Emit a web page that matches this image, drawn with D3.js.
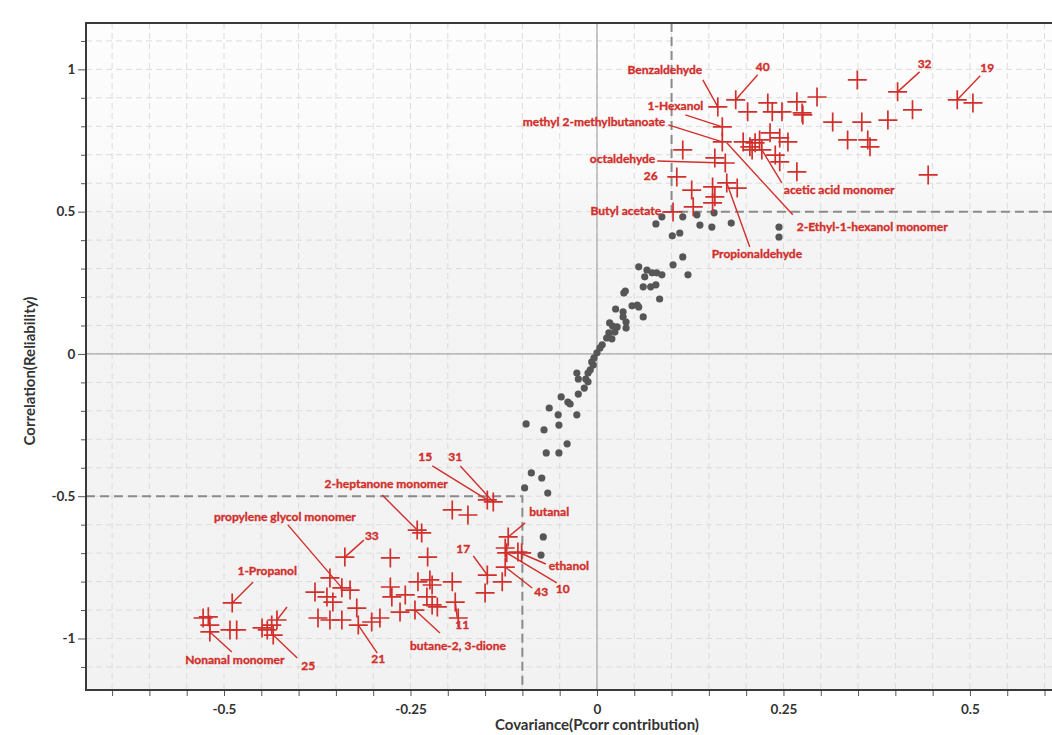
<!DOCTYPE html>
<html>
<head>
<meta charset="utf-8">
<script src="https://cdn.jsdelivr.net/npm/d3@7"></script>
<style>
  body { margin: 0; background: #fff; }
  text { font-family: Lato, "Open Sans", sans-serif; }
</style>
</head>
<body>
<div id="splot"></div>
<script>
// Major tick labels on both axes
const xTickLabels = [-0.5, -0.25, 0, 0.25, 0.5];
const yTickLabels = [-1, -0.5, 0, 0.5, 1];

// Significant variables, positive side: [covariance, correlation]
const posPoints = [
  [0.162, 0.868], [0.186, 0.893], [0.202, 0.851], [0.229, 0.882], [0.235, 0.851],
  [0.248, 0.851], [0.268, 0.886], [0.275, 0.847], [0.295, 0.903], [0.349, 0.963],
  [0.403, 0.921], [0.423, 0.858], [0.483, 0.893], [0.504, 0.882], [0.444, 0.629],
  [0.168, 0.798], [0.168, 0.745], [0.196, 0.745], [0.205, 0.728], [0.212, 0.742],
  [0.218, 0.752], [0.221, 0.717], [0.208, 0.717], [0.232, 0.777], [0.245, 0.759],
  [0.256, 0.745], [0.239, 0.699], [0.245, 0.675], [0.268, 0.640], [0.115, 0.717],
  [0.158, 0.689], [0.172, 0.671], [0.107, 0.622], [0.127, 0.576], [0.155, 0.587],
  [0.188, 0.583], [0.158, 0.552], [0.155, 0.531], [0.129, 0.517], [0.102, 0.499],
  [0.174, 0.601], [0.276, 0.840], [0.316, 0.815], [0.355, 0.815], [0.390, 0.822],
  [0.336, 0.752], [0.363, 0.752], [0.366, 0.728]
];

// Significant variables, negative side
const negPoints = [
  [-0.489, -0.875], [-0.528, -0.928], [-0.521, -0.924], [-0.519, -0.953], [-0.519, -0.977],
  [-0.492, -0.970], [-0.483, -0.970], [-0.449, -0.963], [-0.442, -0.970], [-0.436, -0.953],
  [-0.429, -0.935], [-0.434, -0.988], [-0.338, -0.714], [-0.358, -0.787], [-0.378, -0.837],
  [-0.362, -0.854], [-0.342, -0.822], [-0.331, -0.830], [-0.354, -0.872], [-0.322, -0.893],
  [-0.374, -0.928], [-0.358, -0.935], [-0.342, -0.935], [-0.320, -0.953], [-0.302, -0.942],
  [-0.291, -0.928], [-0.277, -0.717], [-0.227, -0.714], [-0.241, -0.619], [-0.235, -0.629],
  [-0.277, -0.819], [-0.275, -0.854], [-0.257, -0.847], [-0.264, -0.907], [-0.244, -0.900],
  [-0.240, -0.801], [-0.221, -0.812], [-0.224, -0.794], [-0.228, -0.854], [-0.221, -0.882],
  [-0.214, -0.889], [-0.194, -0.801], [-0.190, -0.872], [-0.186, -0.928], [-0.194, -0.548],
  [-0.173, -0.566], [-0.147, -0.513], [-0.139, -0.520], [-0.119, -0.643], [-0.123, -0.682],
  [-0.121, -0.699], [-0.106, -0.696], [-0.101, -0.699], [-0.123, -0.749], [-0.127, -0.801],
  [-0.147, -0.777], [-0.150, -0.840]
];

// Non-significant variables (grey dots)
const otherPoints = [
  [0.087, 0.482], [0.079, 0.457], [0.115, 0.482], [0.134, 0.489], [0.157, 0.496],
  [0.138, 0.453], [0.154, 0.446], [0.180, 0.460], [0.244, 0.446], [0.244, 0.411],
  [0.101, 0.415], [0.111, 0.425], [0.115, 0.341], [0.102, 0.313], [0.122, 0.278],
  [0.056, 0.306], [0.067, 0.295], [0.064, 0.271], [0.074, 0.285], [0.080, 0.285],
  [0.087, 0.278], [0.062, 0.236], [0.072, 0.236], [0.079, 0.243], [0.084, 0.193],
  [0.038, 0.221], [0.036, 0.214], [0.047, 0.169], [0.054, 0.172], [0.056, 0.165],
  [0.062, 0.130], [0.025, 0.158], [0.035, 0.148], [0.035, 0.130], [0.039, 0.112],
  [0.039, 0.091], [0.017, 0.109], [0.021, 0.098], [0.027, 0.095], [0.016, 0.074],
  [0.024, 0.077], [0.013, 0.056], [0.020, 0.053], [0.007, 0.032], [0.004, 0.021],
  [0.000, 0.004], [-0.004, -0.014], [-0.007, -0.028], [-0.005, -0.039], [-0.009, -0.056],
  [-0.012, -0.067], [-0.027, -0.067], [-0.025, -0.088], [-0.015, -0.088], [-0.012, -0.098],
  [-0.017, -0.120], [-0.025, -0.141], [-0.048, -0.151], [-0.039, -0.169], [-0.036, -0.176],
  [-0.064, -0.190], [-0.052, -0.214], [-0.027, -0.214], [-0.051, -0.250], [-0.095, -0.246],
  [-0.071, -0.267], [-0.040, -0.316], [-0.068, -0.348], [-0.051, -0.348], [-0.088, -0.418],
  [-0.074, -0.436], [-0.097, -0.471], [-0.066, -0.489], [-0.072, -0.643], [-0.075, -0.707]
];

// Labelled variables: target point and label text
const labelNames = [
  "Benzaldehyde", "40", "32", "19", "1-Hexanol", "methyl 2-methylbutanoate", "octaldehyde",
  "26", "Butyl acetate", "acetic acid monomer", "2-Ethyl-1-hexanol monomer", "Propionaldehyde",
  "15", "31", "2-heptanone monomer", "propylene glycol monomer", "33", "1-Propanol",
  "Nonanal monomer", "25", "", "21", "butane-2, 3-dione", "11", "17", "butanal", "ethanol", "10", "43"
];
const labelTargets = [
  [0.162, 0.868], [0.186, 0.893], [0.403, 0.921], [0.483, 0.893], [0.168, 0.798],
  [0.168, 0.745], [0.172, 0.671], [0.107, 0.622], [0.102, 0.499], [0.221, 0.717],
  [0.174, 0.742], [0.174, 0.601], [-0.147, -0.513], [-0.139, -0.520], [-0.241, -0.619],
  [-0.342, -0.822], [-0.338, -0.714], [-0.489, -0.875], [-0.519, -0.977], [-0.434, -0.988],
  [-0.429, -0.935], [-0.320, -0.953], [-0.244, -0.900], [-0.190, -0.872], [-0.147, -0.777],
  [-0.119, -0.643], [-0.106, -0.696], [-0.121, -0.699], [-0.123, -0.749]
];

// Label placement (pixel offsets from target): text dx,dy, anchor, leader start dx,dy
const labelLayout = [
  [-53, -36, "middle", -15, -27], [27, -32, "middle", 22, -25], [27, -27, "middle", 22, -20],
  [30, -31, "middle", 23, -24], [-19, -20, "end", -37, -12], [-57, -19, "end", -54, -17],
  [-70, -3, "end", -68, -2], [-26, 0, "middle", null, null], [-12, 0, "end", -11, 0],
  [22, 41, "start", 20, 33], [70, 85, "start", 66, 72], [-15, 72, "start", 23, 64],
  [-62, -42, "middle", -55, -34], [-38, -44, "middle", -33, -36], [-31, -45, "middle", -35, -35],
  [-57, -70, "middle", -54, -63], [27, -20, "middle", 19, -17], [35, -31, "middle", 21, -21],
  [25, 29, "middle", 22, 20], [35, 32, "middle", 24, 23], [0, 0, "middle", 10, -13],
  [20, 35, "middle", 19, 28], [43, 37, "middle", 25, 23], [7, 24, "middle", 2, 16],
  [-24, -25, "middle", -14, -19], [41, -24, "middle", 17, -14], [51, 15, "middle", 28, 12],
  [56, 37, "middle", 50, 30], [36, 26, "middle", 27, 21]
];

const margin = { top: 23, right: 0, bottom: 45, left: 86 };
const width = 1052 - margin.left - margin.right;
const height = 735 - margin.top - margin.bottom;
const red = "#d12f2b";

const svg = d3.select("#splot")
  .append("svg")
  .attr("width", 1052)
  .attr("height", 735);

const defs = svg.append("defs");
const grad = defs.append("linearGradient").attr("id", "bg").attr("x1", 0).attr("y1", 0).attr("x2", 0).attr("y2", 1);
grad.append("stop").attr("offset", "0%").attr("stop-color", "#fdfdfd");
grad.append("stop").attr("offset", "22%").attr("stop-color", "#fafafa");
grad.append("stop").attr("offset", "30%").attr("stop-color", "#f4f4f4");
grad.append("stop").attr("offset", "100%").attr("stop-color", "#f2f2f2");

const g = svg.append("g")
  .attr("transform", "translate(" + margin.left + "," + margin.top + ")");

const xScale = d3.scaleLinear().domain([-0.685, 0.61]).range([0, width]);
const yScale = d3.scaleLinear().domain([-1.181, 1.163]).range([height, 0]);

g.append("rect").attr("width", width).attr("height", height).attr("fill", "url(#bg)");

const xMinor = d3.range(-0.65, 0.6001, 0.05).map(v => +v.toFixed(2));
const yMinor = d3.range(-1.1, 1.1001, 0.1).map(v => +v.toFixed(1));

// Dashed grid
g.append("g").selectAll("line").data(xMinor).enter().append("line")
  .attr("x1", d => xScale(d)).attr("x2", d => xScale(d))
  .attr("y1", 0).attr("y2", height)
  .attr("stroke", "#dcdcdc").attr("stroke-width", 1).attr("stroke-dasharray", "6,4");
g.append("g").selectAll("line").data(yMinor).enter().append("line")
  .attr("x1", 0).attr("x2", width)
  .attr("y1", d => yScale(d)).attr("y2", d => yScale(d))
  .attr("stroke", "#dcdcdc").attr("stroke-width", 1).attr("stroke-dasharray", "6,4");

// Zero lines
g.append("line").attr("x1", xScale(0)).attr("x2", xScale(0)).attr("y1", 0).attr("y2", height)
  .attr("stroke", "#a8a8a8").attr("stroke-width", 1.2);
g.append("line").attr("x1", 0).attr("x2", width).attr("y1", yScale(0)).attr("y2", yScale(0))
  .attr("stroke", "#a8a8a8").attr("stroke-width", 1.2);

// Cut-off lines
const cut = g.append("g").attr("fill", "none").attr("stroke", "#8a8a8a")
  .attr("stroke-width", 2).attr("stroke-dasharray", "9,5");
cut.append("path").attr("d", d3.line()([
  [xScale(0.1), 0], [xScale(0.1), yScale(0.5)], [width, yScale(0.5)]
]));
cut.append("path").attr("d", d3.line()([
  [0, yScale(-0.5)], [xScale(-0.1), yScale(-0.5)], [xScale(-0.1), height]
]));

// Axes
const xAxis = g.append("g")
  .attr("transform", "translate(0," + height + ")")
  .call(d3.axisBottom(xScale).tickValues(xMinor).tickSize(6)
    .tickFormat(d => xTickLabels.includes(d) ? d : ""));
const yAxis = g.append("g")
  .call(d3.axisLeft(yScale).tickValues(yMinor).tickSize(5)
    .tickFormat(d => yTickLabels.includes(d) ? d : ""));
[xAxis, yAxis].forEach(a => {
  a.select(".domain").remove();
  a.selectAll(".tick line").attr("stroke", "#555");
  a.selectAll(".tick text").attr("fill", "#333").attr("font-size", 13.5).attr("font-weight", 700);
});
xAxis.selectAll(".tick text").attr("dy", "1.1em");
yAxis.selectAll(".tick text").attr("dx", "-0.2em");
yAxis.selectAll(".tick").filter(d => yTickLabels.includes(d)).select("line").attr("x2", -8);

// Frame: top, left, bottom
g.append("path").attr("d", d3.line()([[width, 0], [0, 0], [0, height], [width, height]]))
  .attr("fill", "none").attr("stroke", "#3a3a3a").attr("stroke-width", 2);

// Axis titles
svg.append("text").attr("x", margin.left + xScale(0)).attr("y", 730)
  .attr("text-anchor", "middle").attr("font-size", 15).attr("font-weight", 700).attr("fill", "#333")
  .text("Covariance(Pcorr contribution)");
svg.append("text").attr("transform", "translate(35," + (margin.top + yScale(-0.06)) + ") rotate(-90)")
  .attr("text-anchor", "middle").attr("font-size", 15).attr("font-weight", 700).attr("fill", "#333")
  .text("Correlation(Reliability)");

// Grey dots
g.append("g").selectAll("circle").data(otherPoints).enter().append("circle")
  .attr("cx", d => xScale(d[0])).attr("cy", d => yScale(d[1])).attr("r", 3.6)
  .attr("fill", "#565656");

// Red crosses
const crossSize = 9.5;
const crosses = g.append("g").attr("stroke", red).attr("stroke-width", 1.7);
crosses.selectAll("path").data(posPoints.concat(negPoints)).enter().append("path")
  .attr("d", d => {
    const cx = xScale(d[0]), cy = yScale(d[1]);
    return "M" + (cx - crossSize) + "," + cy + "H" + (cx + crossSize) +
      "M" + cx + "," + (cy - crossSize) + "V" + (cy + crossSize);
  });

// Annotations
const ann = g.append("g");
labelNames.forEach((name, i) => {
  const t = labelTargets[i], L = labelLayout[i];
  const tx = xScale(t[0]), ty = yScale(t[1]);
  if (L[3] !== null) {
    ann.append("line").attr("x1", tx + L[3]).attr("y1", ty + L[4]).attr("x2", tx).attr("y2", ty)
      .attr("stroke", red).attr("stroke-width", 1.4);
  }
  if (name) {
    ann.append("text").attr("x", tx + L[0]).attr("y", ty + L[1])
      .attr("text-anchor", L[2]).attr("dominant-baseline", "middle")
      .attr("font-size", 12).attr("font-weight", 700).attr("fill", red)
      .attr("stroke", red).attr("stroke-width", 0.35)
      .text(name);
  }
});
</script>
</body>
</html>
